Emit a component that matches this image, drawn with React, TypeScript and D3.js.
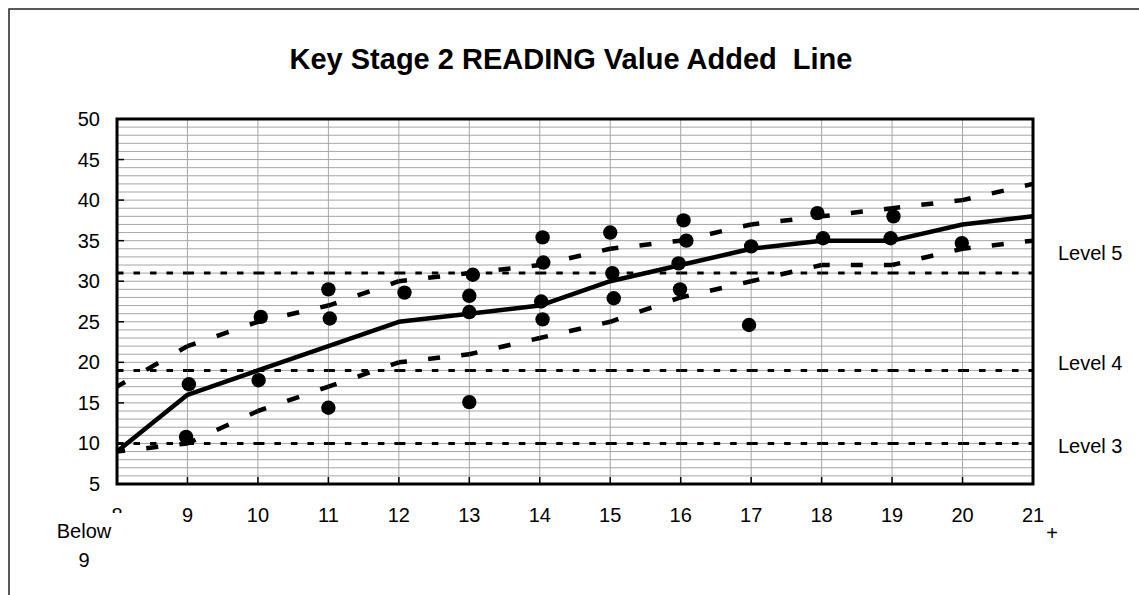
import React from 'react';
import * as d3 from 'd3';

// ks2 reading value added chart
const ks1Scores = [8, 9, 10, 11, 12, 13, 14, 15, 16, 17, 18, 19, 20, 21];
const xTickLabels = ['8', '9', '10', '11', '12', '13', '14', '15', '16', '17', '18', '19', '20', '21'];
const medianLine = [9, 16, 19, 22, 25, 26, 27, 30, 32, 34, 35, 35, 37, 38];
const upperLine = [17, 22, 25, 27, 30, 31, 32, 34, 35, 37, 38, 39, 40, 42];
const lowerLine = [9, 10, 14, 17, 20, 21, 23, 25, 28, 30, 32, 32, 34, 35];

const levelValues = [31, 19, 10];
const levelNames = ['Level 5', 'Level 4', 'Level 3'];

const pupilX = [9.02, 8.98, 10.04, 10.01, 11, 11.02, 11, 12.08, 13.05, 13, 13, 13, 14.04, 14.05, 14.02, 14.04, 15, 15.03, 15.05, 16.04, 16.08, 15.97, 15.99, 17, 16.97, 17.94, 18.02, 19.02, 18.98, 19.99];
const pupilY = [17.3, 10.8, 25.6, 17.8, 29.0, 25.4, 14.4, 28.6, 30.8, 28.2, 26.2, 15.1, 35.4, 32.3, 27.5, 25.3, 36.0, 31.0, 27.9, 37.5, 35.0, 32.2, 29.0, 34.3, 24.6, 38.4, 35.3, 38.0, 35.3, 34.7];

const yTicks = [5, 10, 15, 20, 25, 30, 35, 40, 45, 50];
const yMinor = d3.range(5, 51);

const W = 1139;
const H = 595;
const left = 117, right = 1033, top = 119, bottom = 484;

const FONT = 'Liberation Sans, Arial, sans-serif';

export default function App() {
  const x = d3.scaleLinear().domain([8, 21]).range([left, right]);
  const y = d3.scaleLinear().domain([5, 50]).range([bottom, top]);

  const line = d3.line<number>()
    .x((d, i) => x(ks1Scores[i]))
    .y(d => y(d));

  // each segment restarts the dash pattern, like excel does
  const segments = (vals: number[]) =>
    vals.slice(1).map((v, i) => {
      const x0 = x(ks1Scores[i]), y0 = y(vals[i]);
      const x1 = x(ks1Scores[i + 1]), y1 = y(v);
      const L = Math.hypot(x1 - x0, y1 - y0);
      return { d: `M${x0},${y0}L${x1},${y1}`, L };
    });

  const dashedCurve = (vals: number[], key: string) =>
    segments(vals).map((s, i) => (
      <path key={key + i} d={s.d} fill="none" stroke="#000" strokeWidth={4.5}
        strokeDasharray={[0.115, 0.3, 0.17, 0.3, 0.115].map(f => f * s.L).join(' ')} />
    ));

  const levelLabelOffset = [-13, 0, 10];

  return (
    <svg width={W} height={H} style={{ position: 'absolute', left: 0, top: 0, background: '#fff' }}
      fontFamily={FONT}>
      <rect x={9} y={9} width={1300} height={800} fill="#fff" stroke="#222" strokeWidth={1.5} />

      <text x={571} y={69} textAnchor="middle" fontSize={29} fontWeight="bold" style={{ whiteSpace: 'pre' }}>
        {'Key Stage 2 READING Value Added  Line'}
      </text>

      {/* grid */}
      {yMinor.map(v => (
        <line key={'h' + v} x1={left} x2={right} y1={y(v)} y2={y(v)} stroke="#a6a6a6" strokeWidth={1} />
      ))}
      {ks1Scores.map(v => (
        <line key={'v' + v} x1={x(v)} x2={x(v)} y1={top} y2={bottom} stroke="#a6a6a6" strokeWidth={1} />
      ))}

      {/* level lines */}
      {levelValues.map(lv =>
        ks1Scores.slice(1).map((s, i) => (
          <line key={'l' + lv + '-' + i} x1={x(ks1Scores[i])} x2={x(s)} y1={y(lv)} y2={y(lv)}
            stroke="#000" strokeWidth={3} strokeDasharray="6.5 10" />
        ))
      )}

      {dashedCurve(upperLine, 'u')}
      {dashedCurve(lowerLine, 'lo')}
      <path d={line(medianLine) || ''} fill="none" stroke="#000" strokeWidth={4.5} strokeLinejoin="round" />

      {pupilX.map((px, i) => (
        <circle key={'p' + i} cx={x(px)} cy={y(pupilY[i])} r={7.2} fill="#000" />
      ))}

      {/* frame and ticks */}
      <rect x={left} y={top} width={right - left} height={bottom - top} fill="none" stroke="#000" strokeWidth={3} />
      {yTicks.map(t => (
        <g key={'yt' + t}>
          <line x1={left} x2={left + 7} y1={y(t)} y2={y(t)} stroke="#000" strokeWidth={1.5} />
          <text x={100} y={y(t)} dy="0.35em" textAnchor="end" fontSize={20}>{t}</text>
        </g>
      ))}
      {ks1Scores.map((s, i) => (
        <g key={'xt' + s}>
          <line x1={x(s)} x2={x(s)} y1={bottom} y2={bottom - 7} stroke="#000" strokeWidth={1.5} />
          <text x={x(s)} y={522} textAnchor="middle" fontSize={20}>{xTickLabels[i]}</text>
        </g>
      ))}

      {/* "Below 9" box covers the 8 */}
      <rect x={45} y={513} width={80} height={62} fill="#fff" />
      <text x={84} y={538} textAnchor="middle" fontSize={20}>Below</text>
      <text x={84} y={567} textAnchor="middle" fontSize={20}>9</text>
      <text x={1052} y={540} textAnchor="middle" fontSize={20}>+</text>

      {levelValues.map((lv, i) => (
        <text key={'ln' + i} x={1058} y={y(lv) + levelLabelOffset[i]} fontSize={20}>{levelNames[i]}</text>
      ))}
    </svg>
  );
}
